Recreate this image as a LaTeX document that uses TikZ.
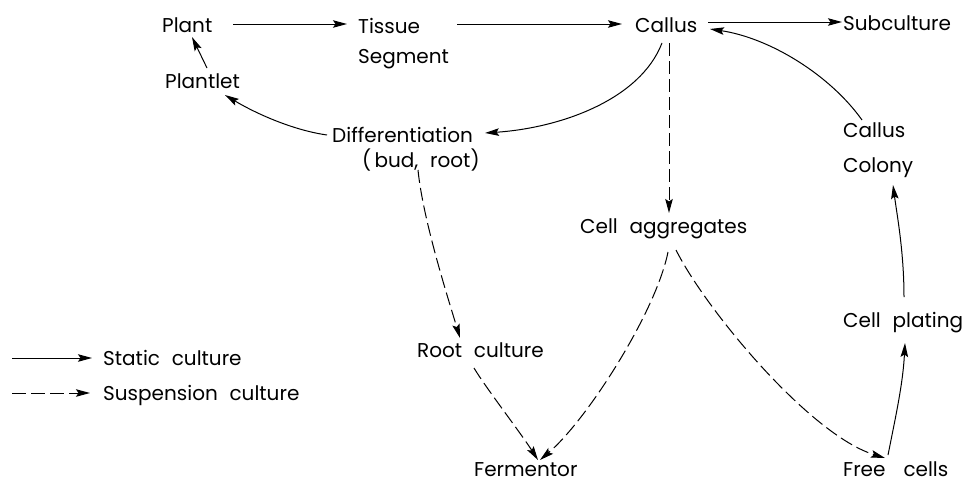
\documentclass[tikz,border=0pt]{standalone}
\usepackage{fontspec}
\setmainfont{Poppins}[WordSpace=2.2]
\usetikzlibrary{arrows.meta}
\begin{document}
\begin{tikzpicture}[x=1pt,y=-1pt,
  lbl/.style={anchor=base west, inner sep=0pt, font=\fontsize{20}{24}\selectfont},
  sarr/.style={line width=1pt, -{Stealth[length=14pt,width=7.5pt,inset=2.5pt]}},
  darr/.style={sarr, dash pattern=on 13pt off 5pt}]
\useasboundingbox (0,0) rectangle (978,485);
% nodes (base west = baseline of the last line)
\node[lbl] (plant) at (162,32) {Plant};
\node[lbl, align=left] (tissue) at (358,63) {Tissue\\[6pt]Segment};
\node[lbl] (callus) at (635,32) {Callus};
\node[lbl] (sub) at (843,30) {Subculture};
\node[lbl] (plantlet) at (165,88) {Plantlet};
\node[lbl, align=left] (diff) at (332,167) {Differentiation\\[1pt]\hspace*{30pt}(\,bud, root)};
\node[lbl] (agg) at (580,233) {Cell aggregates};
\node[lbl, align=left] (colony) at (843,172) {Callus\\[11pt]Colony};
\node[lbl] (root) at (417,357) {Root culture};
\node[lbl] (plating) at (843,327) {Cell plating};
\node[lbl] (ferm) at (474,476) {Fermentor};
\node[lbl] (free) at (843,476) {Free\hspace{0.9em}cells};
\node[lbl] (lstatic) at (103,365) {Static culture};
\node[lbl] (lsusp) at (103,400) {Suspension culture};
\coordinate (ls1) at (12,358);
\coordinate (ls2) at (12,393);
% static connectors
\draw[sarr] ([shift={(71,-8)}]plant.base west) -- ([shift={(-11,-39)}]tissue.base west);
\draw[sarr] ([shift={(99,-39)}]tissue.base west) -- ([shift={(-13,-8)}]callus.base west);
\draw[sarr] ([shift={(73,-10)}]callus.base west) -- ([shift={(-1,-8)}]sub.base west);
\draw[sarr] ([shift={(19,-52)}]colony.base west) .. controls +(-32,-45) and +(60,9) .. ([shift={(75,-3)}]callus.base west);
\draw[sarr] ([shift={(27,11)}]callus.base west) .. controls +(-22,57) and +(75,-5) .. ([shift={(153,-34)}]diff.base west);
\draw[sarr] ([shift={(-5,-32)}]diff.base west) .. controls +(-35,-5) and +(30,18) .. ([shift={(60,7)}]plantlet.base west);
\draw[sarr] ([shift={(42,-20)}]plantlet.base west) -- ([shift={(30,5)}]plant.base west);
\draw[sarr] ([shift={(45,-21)}]free.base west) .. controls +(8,-40) and +(-2,40) .. ([shift={(62,16)}]plating.base west);
\draw[sarr] ([shift={(61,-30)}]plating.base west) .. controls +(0,-45) and +(4,30) .. ([shift={(50,13)}]colony.base west);
% suspension connectors
\draw[darr] ([shift={(34,11)}]callus.base west) -- ([shift={(89,-20)}]agg.base west);
\draw[darr] ([shift={(86,3)}]diff.base west) .. controls +(5,50) and +(-12,-40) .. ([shift={(43,-19)}]root.base west);
\draw[darr] ([shift={(57,11)}]root.base west) .. controls +(12,20) and +(-18,-28) .. ([shift={(64,-16)}]ferm.base west);
\draw[darr] ([shift={(88,19)}]agg.base west) .. controls +(-12,60) and +(47,-40) .. ([shift={(66,-16)}]ferm.base west);
\draw[darr] ([shift={(96,17)}]agg.base west) .. controls +(30,60) and +(-75,-23) .. ([shift={(42,-18)}]free.base west);
% legend
\draw[sarr] (ls1) -- ([shift={(-11,-7)}]lstatic.base west);
\draw[darr, dash pattern=on 14pt off 5pt] (ls2) -- ([shift={(-13,-7)}]lsusp.base west);
\end{tikzpicture}
\end{document}
